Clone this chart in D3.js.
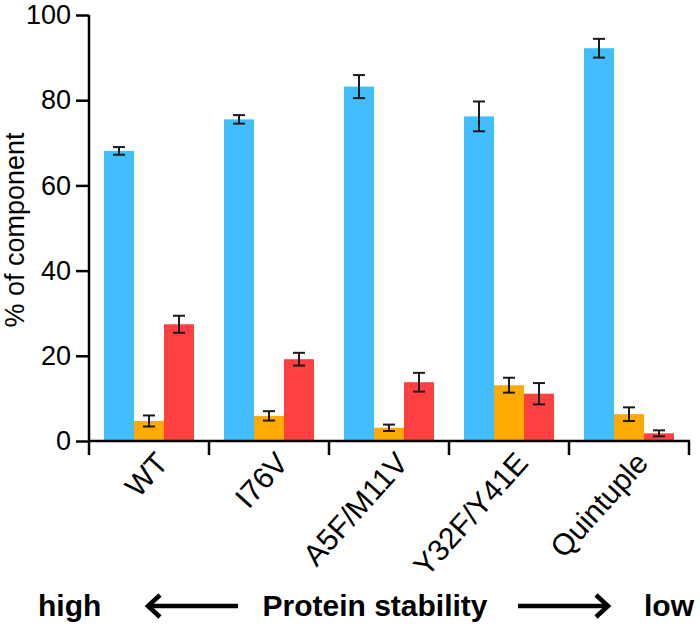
<!DOCTYPE html>
<html><head><meta charset="utf-8">
<script src="https://cdn.jsdelivr.net/npm/d3@7"></script>
<style>body{margin:0;background:#fff}svg{display:block}text{font-family:"Liberation Sans",Arial,sans-serif}</style>
</head><body><svg id="c" width="700" height="626"></svg>
<script>
const categories = ["WT","I76V","A5F/M11V","Y32F/Y41E","Quintuple"];
const series = ["s1","s2","s3"];
const blueValues = [68.1, 75.5, 83.2, 76.2, 92.2];
const blueErrors = [0.9, 1.0, 2.7, 3.5, 2.2];
const orangeValues = [4.7, 5.9, 3.1, 13.1, 6.3];
const orangeErrors = [1.3, 1.1, 0.75, 1.75, 1.6];
const redValues = [27.4, 19.2, 13.8, 11.1, 1.8];
const redErrors = [2.0, 1.5, 2.2, 2.5, 0.7];
const yTicks = [0,20,40,60,80,100];
const colors = ["#40BEFF","#FFAA00","#FF4040"];

const svg = d3.select("#c");
const y = d3.scaleLinear().domain([0,100]).range([441,15]);
const x0 = d3.scaleBand().domain(categories).range([89,689]);
const x1 = d3.scaleBand().domain(series).range([15,105]);

const rows = [];
const vals = [blueValues, orangeValues, redValues];
const errs = [blueErrors, orangeErrors, redErrors];
categories.forEach((c,i)=>series.forEach((s,j)=>rows.push({c,s,j,v:vals[j][i],e:errs[j][i]})));

svg.append("g").selectAll("rect").data(rows).join("rect")
  .attr("x",d=>x0(d.c)+x1(d.s)).attr("width",x1.bandwidth())
  .attr("y",d=>y(d.v)).attr("height",d=>y(0)-y(d.v))
  .attr("fill",d=>colors[d.j]);

const eb = svg.append("g").attr("stroke","#1a1a1a").attr("stroke-width",2);
rows.forEach(d=>{
  const cx = x0(d.c)+x1(d.s)+x1.bandwidth()/2;
  eb.append("line").attr("x1",cx).attr("x2",cx).attr("y1",y(d.v+d.e)).attr("y2",y(d.v-d.e));
  eb.append("line").attr("x1",cx-6).attr("x2",cx+6).attr("y1",y(d.v+d.e)).attr("y2",y(d.v+d.e));
  eb.append("line").attr("x1",cx-6).attr("x2",cx+6).attr("y1",y(d.v-d.e)).attr("y2",y(d.v-d.e));
});

// y axis
const ya = svg.append("g").attr("transform","translate(89,0)")
  .call(d3.axisLeft(y).tickValues(yTicks).tickSize(13).tickPadding(5));
ya.select(".domain").attr("stroke","#000").attr("stroke-width",2.5).attr("d","M0,"+y(100)+"V"+y(0));
ya.selectAll(".tick line").attr("stroke","#000").attr("stroke-width",2.5);
ya.selectAll(".tick text").attr("font-size",27).attr("fill","#000").attr("font-family","Liberation Sans, Arial, sans-serif");

// x axis
const boundaries = categories.map(c=>x0(c)).concat([x0.range()[1]]);
const xa = svg.append("g");
xa.append("line").attr("x1",88).attr("x2",690).attr("y1",y(0)).attr("y2",y(0)).attr("stroke","#000").attr("stroke-width",2.5);
xa.selectAll("line.t").data(boundaries).join("line").attr("class","t")
  .attr("x1",d=>d).attr("x2",d=>d).attr("y1",y(0)).attr("y2",y(0)+14).attr("stroke","#000").attr("stroke-width",2.5);
xa.selectAll("text").data(categories).join("text")
  .attr("transform",d=>`translate(${x0(d)+x0.bandwidth()/2+4},${y(0)+8}) rotate(-48)`)
  .attr("text-anchor","end").attr("dy","0.75em").attr("font-size",30).attr("fill","#000").text(d=>d);

// y label
svg.append("text").attr("transform","translate(24,230) rotate(-90)").attr("text-anchor","middle")
  .attr("font-size",27).attr("fill","#000").text("% of component");

// bottom annotation
const by = 616;
svg.append("text").attr("x",38).attr("y",by).attr("font-size",30).attr("font-weight","bold").text("high");
svg.append("text").attr("x",375).attr("y",by).attr("text-anchor","middle").attr("font-size",30).attr("font-weight","bold").text("Protein stability");
svg.append("text").attr("x",694).attr("y",by).attr("text-anchor","end").attr("font-size",30).attr("font-weight","bold").text("low");
const ay = 606;
const ar = svg.append("g").attr("stroke","#000").attr("stroke-width",4.5).attr("fill","none").attr("stroke-linecap","butt");
ar.append("line").attr("x1",148).attr("x2",238).attr("y1",ay).attr("y2",ay);
ar.append("path").attr("d",`M160,${ay-11}L148,${ay}L160,${ay+11}`).attr("stroke-linejoin","miter");
ar.append("line").attr("x1",518).attr("x2",608).attr("y1",ay).attr("y2",ay);
ar.append("path").attr("d",`M596,${ay-11}L608,${ay}L596,${ay+11}`).attr("stroke-linejoin","miter");
</script></body></html>
